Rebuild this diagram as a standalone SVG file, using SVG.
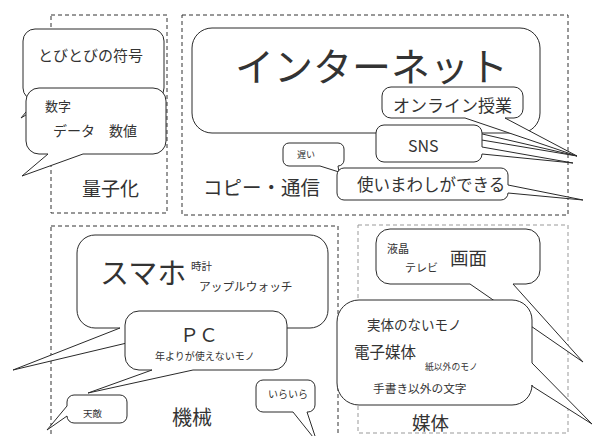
<svg xmlns="http://www.w3.org/2000/svg" width="595" height="436" viewBox="0 0 595 436">
<style>
.box{fill:none;stroke:#333;stroke-width:1;stroke-dasharray:4 3}
.b{fill:#fff;stroke:#2a2a2a;stroke-width:1;stroke-linejoin:miter}
text{font-family:"Noto Sans CJK JP","Noto Sans",sans-serif;fill:#333}
</style>
<rect width="595" height="436" fill="#fff"/>
<g id="areas">
<rect class="box" x="51" y="15" width="116" height="198"/>
<rect class="box" x="182" y="15" width="386" height="200"/>
<rect class="box" x="51" y="226" width="287" height="230"/>
<rect class="box" x="358" y="225" width="210" height="208" style="stroke:#999"/>
</g>
<g id="connectors"></g>
<g id="n-tobitobi">
<path class="b" d="M35,29 H152 A12,12 0 0 1 164,41 V88 A12,12 0 0 1 152,100 H50 L21,118 L36,100 H35 A12,12 0 0 1 23,88 V41 A12,12 0 0 1 35,29 Z"/>
<text x="38" y="61" font-size="15">とびとびの符号</text>
</g>
<g id="n-suji">
<path class="b" d="M39,88 H153 A13,13 0 0 1 166,101 V141 A13,13 0 0 1 153,154 H83 L22,176 L48,154 H39 A13,13 0 0 1 26,141 V101 A13,13 0 0 1 39,88 Z"/>
<text x="45" y="111" font-size="13">数字</text>
<text x="53" y="136" font-size="14">データ　数値</text>
</g>
<g id="n-ryoshika"><text x="82" y="196" font-size="19">量子化</text></g>
<g id="n-internet">
<path class="b" d="M212,28 H520 A20,20 0 0 1 540,48 V113 A20,20 0 0 1 520,133 H478 L577,156 L440,133 H212 A20,20 0 0 1 192,113 V48 A20,20 0 0 1 212,28 Z"/>
<text x="235" y="81" font-size="39">インターネット</text>
</g>
<g id="n-online">
<path class="b" d="M391,87 H514 A9,9 0 0 1 523,96 V109 A9,9 0 0 1 514,118 H505 L577,156 L465,118 H391 A9,9 0 0 1 382,109 V96 A9,9 0 0 1 391,87 Z"/>
<text x="393" y="112" font-size="17">オンライン授業</text>
</g>
<g id="n-sns">
<path class="b" d="M384,125 H474 A8,8 0 0 1 482,133 V147 L573,163 L482,154 A8,8 0 0 1 474,162 H384 A8,8 0 0 1 376,154 V133 A8,8 0 0 1 384,125 Z"/>
<text x="408" y="152" font-size="16">SNS</text>
</g>
<g id="n-osoi">
<path class="b" d="M289,143 H338 A6,6 0 0 1 344,149 V160 A6,6 0 0 1 338,166 L339,172 L320,166 H289 A6,6 0 0 1 283,160 V149 A6,6 0 0 1 289,143 Z"/>
<text x="297" y="158" font-size="9">遅い</text>
</g>
<g id="n-tsukaimawashi">
<path class="b" d="M344,168 H501 A7,7 0 0 1 508,175 V185 L583,200 L508,193 A7,7 0 0 1 501,200 H344 A7,7 0 0 1 337,193 V175 A7,7 0 0 1 344,168 Z"/>
<text x="357" y="191" font-size="16.5">使いまわしができる</text>
</g>
<g id="n-copy"><text x="203" y="195" font-size="19.5">コピー・通信</text></g>
<g id="n-sumaho">
<path class="b" d="M95,235 H310 A18,18 0 0 1 328,253 V310 A18,18 0 0 1 310,328 H190 L13,370 L120,328 H95 A18,18 0 0 1 77,310 V253 A18,18 0 0 1 95,235 Z"/>
<text x="100" y="284" font-size="29">スマホ</text>
<text x="191" y="270" font-size="10.5">時計</text>
<text x="199" y="291" font-size="11.7">アップルウォッチ</text>
</g>
<g id="n-pc">
<path class="b" d="M139,311 H273 A14,14 0 0 1 287,325 V356 A14,14 0 0 1 273,370 H193 L88,393 L152,370 H139 A14,14 0 0 1 125,356 V325 A14,14 0 0 1 139,311 Z"/>
<text x="180" y="342" font-size="19">ＰＣ</text>
<text x="155" y="360" font-size="10">年よりが使えないモノ</text>
</g>
<g id="n-tenteki">
<path class="b" d="M74,395 H120 A7,7 0 0 1 127,402 V416 A7,7 0 0 1 120,423 H74 A7,7 0 0 1 67,416 L47,430 L67,406 V402 A7,7 0 0 1 74,395 Z"/>
<text x="83" y="417" font-size="9.5">天敵</text>
</g>
<g id="n-kikai"><text x="172" y="425" font-size="20">機械</text></g>
<g id="n-iraira">
<path class="b" d="M263,380 H308 A7,7 0 0 1 315,387 V405 A7,7 0 0 1 308,412 H307 L317,442 L293,412 H263 A7,7 0 0 1 256,405 V387 A7,7 0 0 1 263,380 Z"/>
<text x="268" y="398" font-size="10">いらいら</text>
</g>
<g id="n-gamen">
<path class="b" d="M390,229 H526 A14,14 0 0 1 540,243 V270 A14,14 0 0 1 526,284 H513 L583,362 L470,284 H390 A14,14 0 0 1 376,270 V243 A14,14 0 0 1 390,229 Z"/>
<text x="387" y="253" font-size="11">液晶</text>
<text x="405" y="272" font-size="11">テレビ</text>
<text x="450" y="265" font-size="18.5">画面</text>
</g>
<g id="n-jittai">
<path class="b" d="M359,300 H512 A20,20 0 0 1 532,320 V363 L592,424 L532,386 V385 A20,20 0 0 1 512,405 H359 A22,22 0 0 1 337,383 V322 A22,22 0 0 1 359,300 Z"/>
<text x="367" y="330" font-size="13.5">実体のないモノ</text>
<text x="354" y="358" font-size="15.5">電子媒体</text>
<text x="425" y="370" font-size="8.8">紙以外のモノ</text>
<text x="373" y="393" font-size="11.7">手書き以外の文字</text>
</g>
<g id="n-baitai"><text x="412" y="430" font-size="18.5">媒体</text></g>
</svg>
